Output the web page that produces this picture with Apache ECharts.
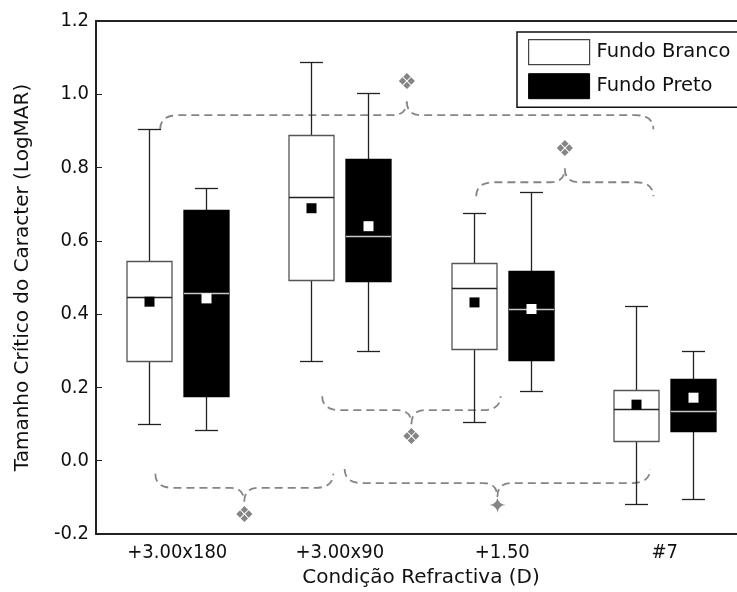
<!DOCTYPE html>
<html>
<head>
<meta charset="utf-8">
<script src="https://cdn.jsdelivr.net/npm/echarts@6/dist/echarts.min.js"></script>
<style>
html, body { margin: 0; padding: 0; background: #fff; }
#grafico { width: 737px; height: 592px; }
</style>
</head>
<body>
<div id="grafico"></div>
<script>
var categorias = ['+3.00x180', '+3.00x90', '+1.50', '#7'];
// [min, Q1, mediana, Q3, max, media]
var fundoBranco = [
    [0.099, 0.271, 0.447, 0.545, 0.905, 0.434],
    [0.271, 0.493, 0.720, 0.888, 1.089, 0.689],
    [0.107, 0.304, 0.470, 0.540, 0.677, 0.432],
    [-0.117, 0.054, 0.140, 0.193, 0.422, 0.153]
];
var fundoPreto = [
    [0.083, 0.177, 0.459, 0.685, 0.745, 0.443],
    [0.299, 0.491, 0.613, 0.823, 1.004, 0.640],
    [0.189, 0.274, 0.414, 0.517, 0.733, 0.414],
    [-0.105, 0.082, 0.136, 0.222, 0.299, 0.172]
];
// chavetas: [inicio, fim (em unidades de categoria), y da chaveta, sentido (1 = bico para cima), y do simbolo]
var chavetas = [
    [-0.105, 2.93, 0.943, 1, 1.03],
    [1.84, 2.93, 0.76, 1, 0.847],
    [0.892, 1.99, 0.138, -1, 0.062],
    [-0.135, 0.96, -0.074, -1, -0.151],
    [1.03, 2.91, -0.061, -1, -0.126]
];
var simbolos = ['\u2756', '\u2756', '\u2756', '\u2756', '\u2726'];

var fonte = '"DejaVu Sans", sans-serif';
var fonteNum = '"DejaVu Sans Condensed", "DejaVu Sans", sans-serif';

var grafico = echarts.init(document.getElementById('grafico'));

/**
  * Desenha uma caixa (boxplot) com a media
  * @param {lado} -1 a esquerda, 1 a direita da categoria
  */
function caixa(lado, preenchimento, contorno, corMediana, corMedia, corBigode)
{
    return function (params, api) {
        var banda = api.size([1, 0])[0];
        var cx = Math.round(api.coord([api.value(0), 0])[0] + lado * 0.175 * banda) + 0.5;
        var w = Math.round(0.277 * banda);
        var cap = Math.round(0.14 * banda);
        var y = function (v) { return Math.round(api.coord([0, v])[1]) + 0.5; };
        var yMin = y(api.value(1)), yQ1 = y(api.value(2)), yMed = y(api.value(3));
        var yQ3 = y(api.value(4)), yMax = y(api.value(5)), yMedia = api.coord([0, api.value(6)])[1];
        var linha = { stroke: corBigode, lineWidth: 1.3 };
        return {
            type: 'group',
            children: [
                { type: 'line', shape: { x1: cx, y1: yQ3, x2: cx, y2: yMax }, style: linha },
                { type: 'line', shape: { x1: cx - cap / 2, y1: yMax, x2: cx + cap / 2, y2: yMax }, style: linha },
                { type: 'line', shape: { x1: cx, y1: yQ1, x2: cx, y2: yMin }, style: linha },
                { type: 'line', shape: { x1: cx - cap / 2, y1: yMin, x2: cx + cap / 2, y2: yMin }, style: linha },
                { type: 'rect', shape: { x: cx - w / 2, y: yQ3, width: w, height: yQ1 - yQ3 },
                  style: { fill: preenchimento, stroke: contorno, lineWidth: 1.3 } },
                { type: 'line', shape: { x1: cx - w / 2, y1: yMed, x2: cx + w / 2, y2: yMed },
                  style: { stroke: corMediana, lineWidth: 1.3 } },
                { type: 'rect', shape: { x: cx - 5, y: yMedia - 5, width: 10, height: 10 },
                  style: { fill: corMedia } }
            ]
        };
    };
}

function chaveta(params, api)
{
    var banda = api.size([1, 0])[0];
    var x0 = api.coord([0, 0])[0];
    var xa = x0 + api.value(0) * banda;
    var xb = x0 + api.value(1) * banda;
    var xm = (xa + xb) / 2;
    var y = api.coord([0, api.value(2)])[1];
    var s = api.value(3);
    var r = 14;
    var ys = api.coord([0, api.value(4)])[1];
    var p = 'M' + xa + ',' + (y + s * r) + ' Q' + xa + ',' + y + ' ' + (xa + r + 4) + ',' + y +
        ' L' + (xm - r) + ',' + y + ' Q' + xm + ',' + y + ' ' + xm + ',' + (y - s * r) +
        ' M' + xm + ',' + (y - s * r) + ' Q' + xm + ',' + y + ' ' + (xm + r) + ',' + y +
        ' L' + (xb - r - 4) + ',' + y + ' Q' + xb + ',' + y + ' ' + xb + ',' + (y + s * r);
    return {
        type: 'group',
        children: [
            { type: 'path', shape: { pathData: p },
              style: { fill: null, stroke: '#858585', lineWidth: 1.8, lineDash: [8, 5] } },
            { type: 'text', style: { text: simbolos[params.dataIndex], x: xm, y: ys,
              align: 'center', verticalAlign: 'middle', fill: '#858585',
              font: '22px "DejaVu Sans"' } }
        ]
    };
}

var eixoX = {
    type: 'category',
    data: categorias,
    boundaryGap: true,
    axisLine: { onZero: false, lineStyle: { color: '#222', width: 2 } },
    axisTick: { inside: true, alignWithLabel: true, length: 6, lineStyle: { color: '#222' } },
    splitLine: { show: false }
};
var eixoY = {
    type: 'value',
    min: -0.2,
    max: 1.2,
    interval: 0.2,
    axisLine: { show: true, onZero: false, lineStyle: { color: '#222', width: 2 } },
    axisTick: { show: true, inside: true, length: 6, lineStyle: { color: '#222' } },
    splitLine: { show: false }
};

option = {
    animation: false,
    backgroundColor: '#fff',
    grid: { left: 96, top: 21, width: 650, height: 513, containLabel: false, outerBoundsMode: 'none' },
    legend: {
        left: 517,
        top: 32,
        orient: 'vertical',
        itemWidth: 61,
        itemHeight: 25,
        itemGap: 8,
        padding: [7, 14, 8, 11],
        borderColor: '#111',
        borderWidth: 1.5,
        backgroundColor: '#fff',
        textStyle: { fontSize: 19.5, color: '#111', fontFamily: fonte, padding: [0, 0, 0, 2] },
        data: [
            { name: 'Fundo Branco', icon: 'rect', itemStyle: { color: '#fff', borderColor: '#444', borderWidth: 1.2 } },
            { name: 'Fundo Preto', icon: 'rect', itemStyle: { color: '#000', borderColor: '#000', borderWidth: 1 } }
        ]
    },
    xAxis: [
        Object.assign({}, eixoX, {
            position: 'bottom',
            axisLabel: { fontSize: 20, color: '#111', fontFamily: fonteNum, margin: 9 },
            name: 'Condição Refractiva (D)',
            nameLocation: 'middle',
            nameGap: 34,
            nameTextStyle: { fontSize: 20, color: '#111', fontFamily: fonte }
        }),
        Object.assign({}, eixoX, { position: 'top', axisLabel: { show: false } })
    ],
    yAxis: [
        Object.assign({}, eixoY, {
            position: 'left',
            axisLabel: { fontSize: 20, color: '#111', fontFamily: fonteNum, margin: 7,
                formatter: function (v) { return v.toFixed(1); } },
            name: 'Tamanho Crítico do Caracter (LogMAR)',
            nameLocation: 'middle',
            nameGap: 63,
            nameTextStyle: { fontSize: 20, color: '#111', fontFamily: fonte }
        }),
        Object.assign({}, eixoY, { position: 'right', axisLabel: { show: false } })
    ],
    series: [
        {
            name: 'Fundo Branco',
            type: 'custom',
            itemStyle: { color: '#fff', borderColor: '#444' },
            renderItem: caixa(-1, '#fff', '#555', '#222', '#000', '#222'),
            data: fundoBranco.map(function (d, i) { return [i].concat(d); }),
            z: 3
        },
        {
            name: 'Fundo Preto',
            type: 'custom',
            itemStyle: { color: '#000' },
            renderItem: caixa(1, '#000', '#000', '#c8c8c8', '#fff', '#222'),
            data: fundoPreto.map(function (d, i) { return [i].concat(d); }),
            z: 3
        },
        {
            name: 'chavetas',
            type: 'custom',
            renderItem: chaveta,
            data: chavetas,
            z: 2,
            silent: true
        }
    ]
};
grafico.setOption(option);
</script>
</body>
</html>
